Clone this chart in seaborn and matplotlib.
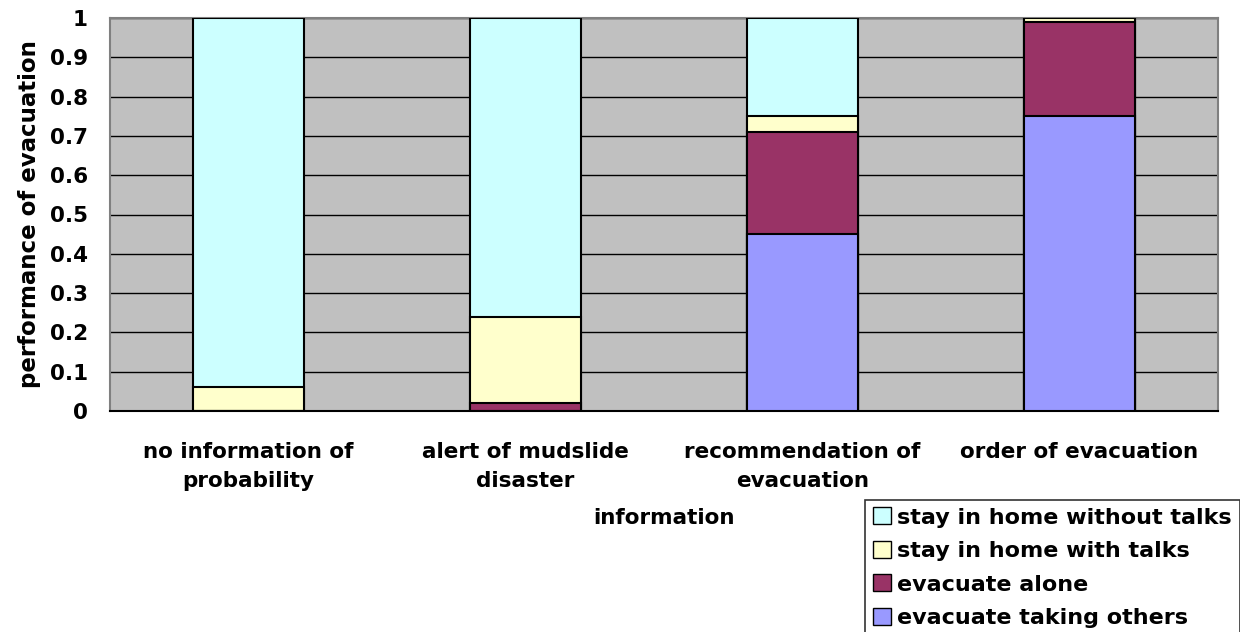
import matplotlib
matplotlib.use("Agg")
import matplotlib.pyplot as plt
import seaborn as sns
import pandas as pd
import numpy as np
from matplotlib.patches import Patch

categories = ["no information of\nprobability", "alert of mudslide\ndisaster",
              "recommendation of\nevacuation", "order of evacuation"]
evacuate_taking_others = [0.0, 0.0, 0.45, 0.75]
evacuate_alone = [0.0, 0.02, 0.26, 0.24]
stay_with_talks = [0.06, 0.22, 0.04, 0.01]
stay_without_talks = [0.94, 0.76, 0.25, 0.0]
series_names = ["evacuate taking others", "evacuate alone",
                "stay in home with talks", "stay in home without talks"]
colors = ["#9999FF", "#993366", "#FFFFCC", "#CCFFFF"]

sns.set_theme(style="white")
plt.rcParams['font.family'] = ['DejaVu Sans']
plt.rcParams['font.weight'] = 'bold'
plt.rcParams['text.color'] = 'black'
plt.rcParams['axes.labelcolor'] = 'black'
plt.rcParams['xtick.color'] = 'black'
plt.rcParams['ytick.color'] = 'black'

FS = 15.5

fig = plt.figure(figsize=(12.4, 6.32), dpi=100)
ax = fig.add_axes([110/1240, 1-411/632, (1218-110)/1240, (411-18)/632])
ax.set_facecolor("#C0C0C0")

series = [evacuate_taking_others, evacuate_alone, stay_with_talks, stay_without_talks]
cum = np.cumsum(np.array(series), axis=0)
for i in range(3, -1, -1):
    df = pd.DataFrame({"cat": categories, "val": cum[i]})
    sns.barplot(data=df, x="cat", y="val", order=categories, color=colors[i],
                saturation=1, width=0.4, edgecolor="black", linewidth=1.5,
                ax=ax, zorder=3 + (3 - i))

ax.set_ylim(0, 1)
ax.set_xlim(-0.5, 3.5)
ax.set_yticks(np.arange(0, 1.01, 0.1))
ax.set_yticklabels(["0"] + [f"{v:.1f}" for v in np.arange(0.1, 0.95, 0.1)] + ["1"])
ax.yaxis.grid(True, color="black", linewidth=1)
ax.set_axisbelow(True)
ax.tick_params(axis="y", length=0, labelsize=FS, pad=16, colors="black")
ax.tick_params(axis="x", length=0, labelsize=FS, pad=22, colors="black")
for lab in ax.get_xticklabels() + ax.get_yticklabels():
    lab.set_fontweight("bold")
    lab.set_linespacing(1.6)
ax.set_xticks([0.5, 1.5, 2.5], minor=True)
ax.tick_params(axis="x", which="minor", direction="in", length=7, color="#404040", width=1)
for s in ["left", "top", "right"]:
    ax.spines[s].set_color("#808080")
    ax.spines[s].set_linewidth(1.5)
ax.spines["bottom"].set_color("black")
ax.spines["bottom"].set_linewidth(1.5)

ax.set_xlabel("information", fontsize=FS, fontweight="bold", labelpad=12, color="black")
ax.set_ylabel("performance of evacuation", fontsize=16.5, fontweight="bold", labelpad=6, color="black")

handles = [Patch(facecolor=colors[i], edgecolor="black", label=series_names[i]) for i in range(3, -1, -1)]
leg = fig.legend(handles=handles, loc="lower left", bbox_to_anchor=(865/1240, -4/632),
                 frameon=True, fancybox=False, edgecolor="black", fontsize=16,
                 handlelength=0.8, handleheight=0.8, handletextpad=0.3,
                 labelspacing=0.6, borderpad=0.35, borderaxespad=0)
leg.get_frame().set_linewidth(1.2)
for t in leg.get_texts():
    t.set_fontweight("bold")
    t.set_color("black")

fig.savefig("out.png", dpi=100)
